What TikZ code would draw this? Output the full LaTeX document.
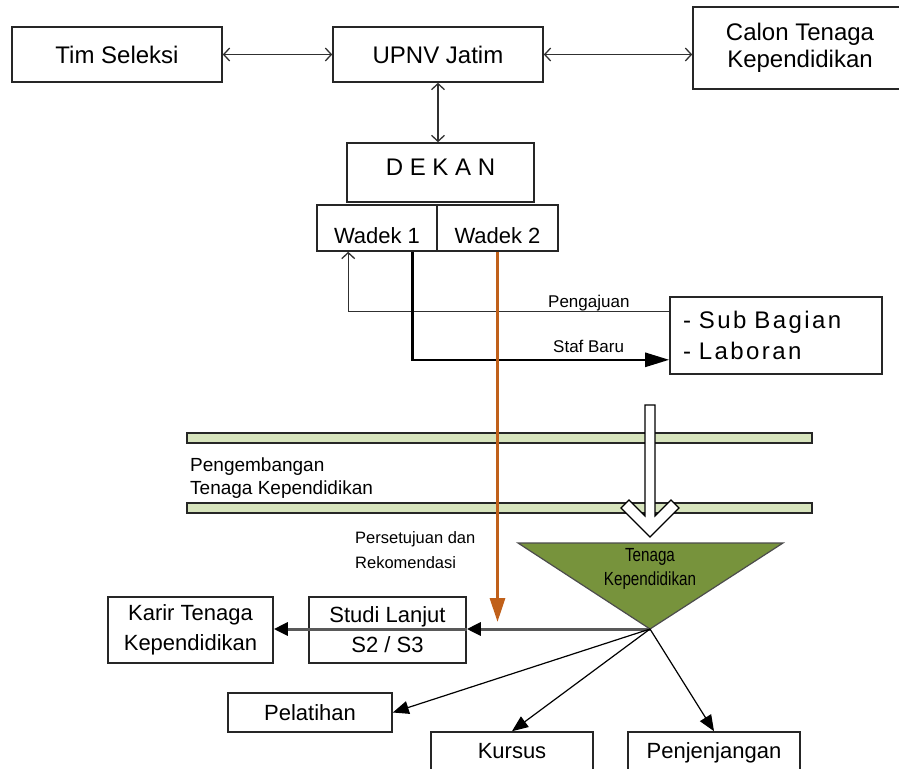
\documentclass[tikz,border=0pt]{standalone}
\usepackage{fontspec}
\setmainfont{Liberation Sans}
\newfontfamily\narrowfont[FakeStretch=0.8]{Liberation Sans}
\newfontfamily\spacedfont[LetterSpace=10]{Liberation Sans}
\usetikzlibrary{arrows.meta,calc}
\definecolor{barfill}{HTML}{D7E4BD}
\definecolor{trifill}{HTML}{77933C}
\definecolor{brownline}{HTML}{C0601A}
\definecolor{linegray}{HTML}{303030}
\begin{document}
\begin{tikzpicture}[x=1pt,y=-1pt,
  box/.style={draw=black!85, line width=1.6pt, fill=white, inner sep=0pt, align=center},
  big/.style={font=\fontsize{24}{27}\selectfont},
  mid/.style={font=\fontsize{22}{30}\selectfont},
  conn/.style={draw=linegray, line width=1.3pt},
  dbl/.style={conn, {Straight Barb[length=6pt,width=13pt]}-{Straight Barb[length=6pt,width=13pt]}},
  diag/.style={draw=black, line width=1.2pt, -{Triangle[length=16pt,width=13pt]}},
  horiz/.style={draw=black!65, line width=3pt, -{Triangle[length=14pt,width=13pt,color=black]}},
  bar/.style={draw=black!85, fill=barfill, line width=1.5pt, minimum width=625pt, minimum height=10pt, inner sep=0pt},
  small/.style={inner sep=0pt, anchor=base west}
]
\useasboundingbox (0,0) rectangle (899,768);

% top row
\node[box, big, minimum width=210pt, minimum height=55pt] (tim) at (117,54.5) {Tim Seleksi};
\node[box, big, minimum width=210pt, minimum height=55pt] (upnv) at (438,54.5) {UPNV Jatim};
\node[box, big, minimum width=214pt, minimum height=82pt] (calon) at (800,48) {Calon Tenaga\\Kependidikan};

\draw[dbl] (tim) -- (upnv);
\draw[dbl] (upnv.east) -- (upnv.east -| calon.west);

% dekan and wadek
\node[box, big, minimum width=187pt, minimum height=59pt, text height=17pt, text depth=11pt] (dekan) at (440.5,172.5) {D E K A N};
\draw[dbl] (upnv.south) -- (upnv.south |- dekan.north);
\node[box, font=\fontsize{22}{26}\selectfont, minimum width=120pt, minimum height=46pt, text height=34pt, text depth=4pt] (w1) at (377,228) {Wadek 1};
\node[box, font=\fontsize{22}{26}\selectfont, minimum width=121pt, minimum height=46pt, text height=34pt, text depth=4pt] (w2) at (497.5,228) {Wadek 2};

% sub bagian
\node[box, font=\spacedfont\fontsize{24}{31}\selectfont, align=left, text width=186pt, minimum width=212pt, minimum height=77pt] (sub) at (776,335.5) {- Sub Bagian\\- Laboran};

\coordinate (pj) at ($(sub.north west)+(0,15)$);
\coordinate (pjtop) at ($(w1.south west)+(32,0)$);
\draw[conn, -{Straight Barb[length=6pt,width=13pt]}] (pj) -| (pjtop);
\node[small, font=\fontsize{17}{20}\selectfont] (pjl) at (548,307) {Pengajuan};

\coordinate (sf) at ($(sub.south west)+(0,-15)$);
\coordinate (sfstart) at ($(w1.south west)+(96,0)$);
\draw[black, line width=2.6pt, -{Triangle[length=24pt,width=14pt]}] (sfstart) |- (sf);
\node[small, font=\fontsize{17}{20}\selectfont] (sfl) at (553,352) {Staf Baru};

% bars
\node[bar] (bar1) at (499.5,438) {};
\node[bar] (bar2) at (499.5,508) {};
\node[small, font=\fontsize{19}{24}\selectfont] (peng1) at (190,471) {Pengembangan};
\node[small, font=\fontsize{19}{24}\selectfont] (peng2) at (190,494) {Tenaga Kependidikan};

% brown arrow
\coordinate (brend) at (497.5,622);
\draw[brownline, line width=3pt, -{Triangle[length=24pt,width=15pt]}] (w2.south) -- (brend);
\node[small, font=\fontsize{16.5}{20}\selectfont] (pers1) at (355,543) {Persetujuan dan};
\node[small, font=\fontsize{16.5}{20}\selectfont] (pers2) at (355,568) {Rekomendasi};

% hollow arrow
\draw[fill=white, draw=black, line width=1.2pt] (645,405) -- (655,405) -- (655,516) -- (671,500) -- (679,508) -- (650,537) -- (621,508) -- (629,500) -- (645,516) -- cycle;

% triangle
\coordinate (tl) at (518,543);
\coordinate (tr) at (783,543);
\coordinate (apex) at (650,629);
\draw[fill=trifill, draw=black!70, line width=1.2pt] (tl) -- (tr) -- (apex) -- cycle;
\node[inner sep=0pt, align=center, font=\narrowfont\fontsize{19}{24}\selectfont] (tritext) at (650,569) {Tenaga\\Kependidikan};

% bottom boxes
\node[box, mid, minimum width=165pt, minimum height=66pt] (karir) at (190.5,630) {Karir Tenaga\\Kependidikan};
\node[box, mid, minimum width=157pt, minimum height=66pt] (studi) at (387.5,630) {Studi Lanjut\\S2 / S3};
\node[box, mid, minimum width=164pt, minimum height=39pt] (pel) at (310,712.5) {Pelatihan};
\node[box, mid, minimum width=162pt, minimum height=48pt, text height=16pt, text depth=12pt] (kursus) at (512,756) {Kursus};
\node[box, mid, minimum width=172pt, minimum height=48pt, text height=16pt, text depth=12pt] (penj) at (714,756) {Penjenjangan};

\draw[horiz] (apex) -- (studi.east |- apex);
\draw[draw=black!65, line width=3pt] (studi.west |- apex) -- (studi.east |- apex);
\draw[horiz] (studi.west |- apex) -- (karir.east |- apex);
\draw[diag] (apex) -- (pel.east);
\draw[diag] (apex) -- (kursus.north);
\draw[diag] (apex) -- (penj.north);
\end{tikzpicture}
\end{document}
